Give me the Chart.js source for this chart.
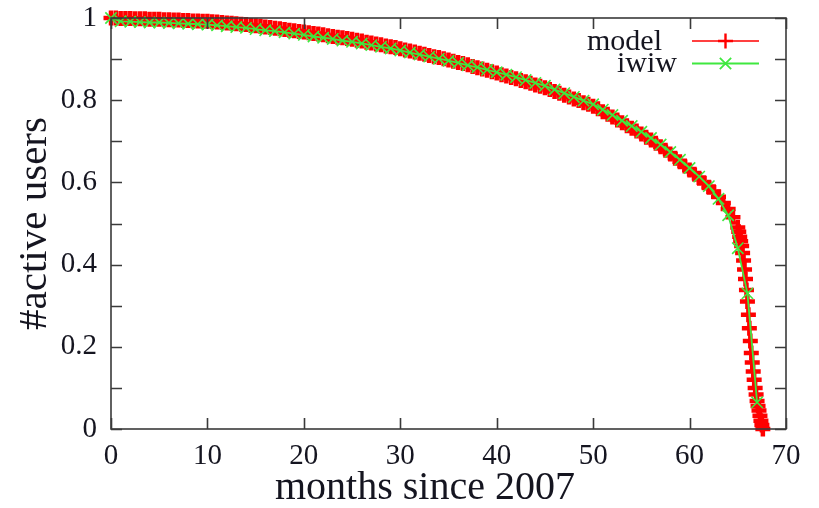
<!DOCTYPE html>
<html>
<head>
<meta charset="utf-8">
<script src="https://cdn.jsdelivr.net/npm/chart.js@4.4.1/dist/chart.umd.min.js"></script>
<style>
  html, body { margin: 0; padding: 0; background: #ffffff; }
  #wrap { width: 819px; height: 508px; }
</style>
</head>
<body>
<div id="wrap"><canvas id="c" width="819" height="508"></canvas></div>
<script>
// Observed share of active iwiw users, one value per month since January 2007
const iwiwMonths = [0,1,2,3,4,5,6,7,8,9,10,11,12,13,14,15,16,17,18,19,20,21,22,23,24,25,26,27,28,29,30,31,32,33,34,35,36,37,38,39,40,41,42,43,44,45,46,47,48,49,50,51,52,53,54,55,56,57,58,59,60,61,62,63,64,65,66,67];
const iwiwActive = [1.000,0.992,0.991,0.990,0.989,0.989,0.988,0.987,0.986,0.985,0.984,0.982,0.980,0.978,0.976,0.973,0.970,0.968,0.965,0.962,0.959,0.955,0.952,0.949,0.945,0.942,0.938,0.934,0.930,0.926,0.921,0.916,0.911,0.906,0.901,0.896,0.891,0.885,0.880,0.874,0.868,0.862,0.856,0.849,0.842,0.835,0.826,0.817,0.808,0.799,0.790,0.777,0.764,0.750,0.737,0.723,0.708,0.692,0.674,0.655,0.635,0.614,0.591,0.560,0.520,0.440,0.330,0.065];

// Model output, sampled every half month and more finely during the collapse
const modelMonths = [0,0.5,1,1.5,2,2.5,3,3.5,4,4.5,5,5.5,6,6.5,7,7.5,8,8.5,9,9.5,10,10.5,11,11.5,12,12.5,13,13.5,14,14.5,15,15.5,16,16.5,17,17.5,18,18.5,19,19.5,20,20.5,21,21.5,22,22.5,23,23.5,24,24.5,25,25.5,26,26.5,27,27.5,28,28.5,29,29.5,30,30.5,31,31.5,32,32.5,33,33.5,34,34.5,35,35.5,36,36.5,37,37.5,38,38.5,39,39.5,40,40.5,41,41.5,42,42.5,43,43.5,44,44.5,45,45.5,46,46.5,47,47.5,48,48.5,49,49.5,50,50.5,51,51.5,52,52.5,53,53.5,54,54.5,55,55.5,56,56.5,57,57.5,58,58.5,59,59.5,60,60.5,61,61.5,62,62.5,63,63.5,64,64.5,65,65.1,65.2,65.3,65.4,65.5,65.6,65.7,65.8,65.9,66.0,66.1,66.2,66.3,66.4,66.5,66.6,66.7,66.8,66.9,67.0,67.1,67.2,67.3,67.4,67.5,67.6];
const modelActive = [1.000,1.000,0.999,0.999,0.999,0.998,0.998,0.998,0.997,0.997,0.997,0.996,0.996,0.995,0.995,0.994,0.994,0.993,0.993,0.992,0.992,0.991,0.990,0.989,0.988,0.987,0.986,0.985,0.984,0.982,0.981,0.980,0.978,0.977,0.975,0.974,0.972,0.970,0.969,0.967,0.966,0.964,0.962,0.961,0.959,0.957,0.955,0.953,0.952,0.950,0.948,0.946,0.944,0.941,0.939,0.937,0.935,0.932,0.930,0.928,0.925,0.922,0.920,0.917,0.914,0.912,0.909,0.906,0.904,0.901,0.898,0.895,0.892,0.889,0.886,0.882,0.879,0.876,0.873,0.869,0.866,0.862,0.859,0.855,0.852,0.848,0.845,0.841,0.837,0.834,0.830,0.826,0.821,0.817,0.812,0.808,0.803,0.799,0.794,0.790,0.785,0.779,0.772,0.766,0.759,0.752,0.745,0.738,0.732,0.725,0.718,0.710,0.703,0.695,0.687,0.678,0.669,0.659,0.650,0.640,0.630,0.620,0.610,0.599,0.588,0.577,0.565,0.550,0.535,0.515,0.490,0.480,0.468,0.457,0.445,0.428,0.410,0.388,0.365,0.338,0.310,0.278,0.245,0.214,0.185,0.162,0.140,0.120,0.100,0.084,0.068,0.056,0.045,0.032,0.020,0.010,0.000];

// Axis ticks: labelled x ticks every 10 months, y ticks every 0.1 with labels every 0.2
const xTickValues = [0,10,20,30,40,50,60,70];
const yTickLabels = ['0','0.2','0.4','0.6','0.8','1'];

const seriesNames = ['model', 'iwiw'];
const xTitle = 'months since 2007';

const SERIF = "'Liberation Serif', 'Times New Roman', serif";
const INK = '#151520';
const FRAME = '#3a3a3a';
const RED = '#ff0000';
const GREEN = '#3fe83f';

const toPoints = (xs, ys) => xs.map((x, i) => ({ x: x, y: ys[i] }));

// Frame with inward ticks on all four sides, the x title, and a key with the sample after each label
const framePlugin = {
  id: 'frameAndKey',
  afterDatasetsDraw(chart) {
    const { ctx, chartArea: a, scales } = chart;
    const xs = scales.x, ys = scales.y;
    const len = 11;
    ctx.save();
    ctx.strokeStyle = FRAME;
    ctx.lineWidth = 1.6;
    ctx.strokeRect(a.left, a.top, a.right - a.left, a.bottom - a.top);
    ctx.beginPath();
    xs.ticks.forEach(t => {
      const px = Math.round(xs.getPixelForValue(t.value)) + 0.5;
      ctx.moveTo(px, a.bottom); ctx.lineTo(px, a.bottom - len);
      ctx.moveTo(px, a.top); ctx.lineTo(px, a.top + len);
    });
    ys.ticks.forEach(t => {
      const py = Math.round(ys.getPixelForValue(t.value)) + 0.5;
      ctx.moveTo(a.left, py); ctx.lineTo(a.left + len, py);
      ctx.moveTo(a.right, py); ctx.lineTo(a.right - len, py);
    });
    ctx.stroke();

    // x axis title, set slightly left of the plot centre
    ctx.fillStyle = INK;
    ctx.font = '40px ' + SERIF;
    ctx.textAlign = 'center';
    ctx.textBaseline = 'middle';
    ctx.fillText(xTitle, 425, 488);

    // key
    const rows = [
      { name: seriesNames[0], textRight: 662, y: 41, color: RED, style: 'cross', width: 1.6, pw: 2.4, r: 7.5 },
      { name: seriesNames[1], textRight: 677, y: 63.5, color: GREEN, style: 'crossRot', width: 1.8, pw: 1.8, r: 8 }
    ];
    ctx.font = '30px ' + SERIF;
    ctx.textAlign = 'right';
    rows.forEach(r => {
      ctx.fillStyle = INK;
      ctx.fillText(r.name, r.textRight, r.y + 1);
      ctx.strokeStyle = r.color;
      ctx.lineWidth = r.width;
      ctx.beginPath();
      ctx.moveTo(692, r.y); ctx.lineTo(759, r.y);
      ctx.stroke();
      ctx.lineWidth = r.pw;
      Chart.helpers.drawPoint(ctx, { pointStyle: r.style, radius: r.r, borderWidth: r.pw }, 725.5, r.y);
    });
    ctx.restore();
  }
};

new Chart(document.getElementById('c'), {
  type: 'scatter',
  data: {
    datasets: [
      {
        label: seriesNames[1],
        data: toPoints(iwiwMonths, iwiwActive),
        showLine: true,
        borderColor: GREEN,
        borderWidth: 1.8,
        pointStyle: 'crossRot',
        pointRadius: 8,
        pointBorderColor: GREEN,
        pointBorderWidth: 1.6,
        pointBackgroundColor: GREEN,
        clip: false
      },
      {
        label: seriesNames[0],
        data: toPoints(modelMonths, modelActive),
        showLine: true,
        borderColor: RED,
        borderWidth: 1.6,
        pointStyle: 'cross',
        pointRadius: 7.5,
        pointBorderColor: RED,
        pointBorderWidth: 4.5,
        pointBackgroundColor: RED,
        clip: false
      }
    ]
  },
  options: {
    responsive: false,
    animation: false,
    devicePixelRatio: 1,
    layout: { padding: { left: 0, right: 33, top: 18, bottom: 0 } },
    plugins: { legend: { display: false }, tooltip: { enabled: false } },
    elements: { line: { tension: 0 } },
    scales: {
      x: {
        type: 'linear',
        min: 0, max: 70,
        afterBuildTicks: s => { s.ticks = xTickValues.map(v => ({ value: v })); },
        afterFit: s => { s.height = 79; s.paddingLeft = 0; s.paddingRight = 0; },
        grid: { display: false, drawTicks: false },
        border: { display: false },
        ticks: {
          color: INK,
          padding: 10,
          maxRotation: 0,
          font: { family: SERIF, size: 29 },
          callback: v => String(v)
        },
        title: { display: false }
      },
      y: {
        type: 'linear',
        min: 0, max: 1,
        ticks: {
          stepSize: 0.1,
          color: INK,
          padding: 14,
          font: { family: SERIF, size: 29 },
          callback: v => {
            const k = Math.round(v * 10);
            return k % 2 === 0 ? yTickLabels[k / 2] : '';
          }
        },
        afterFit: s => { s.width = 111; s.paddingTop = 0; s.paddingBottom = 0; },
        grid: { display: false, drawTicks: false },
        border: { display: false },
        title: {
          display: true,
          text: '#active users',
          color: INK,
          font: { family: SERIF, size: 41, lineHeight: 1 },
          padding: { top: 15, bottom: 0 }
        }
      }
    }
  },
  plugins: [framePlugin]
});
</script>
</body>
</html>
